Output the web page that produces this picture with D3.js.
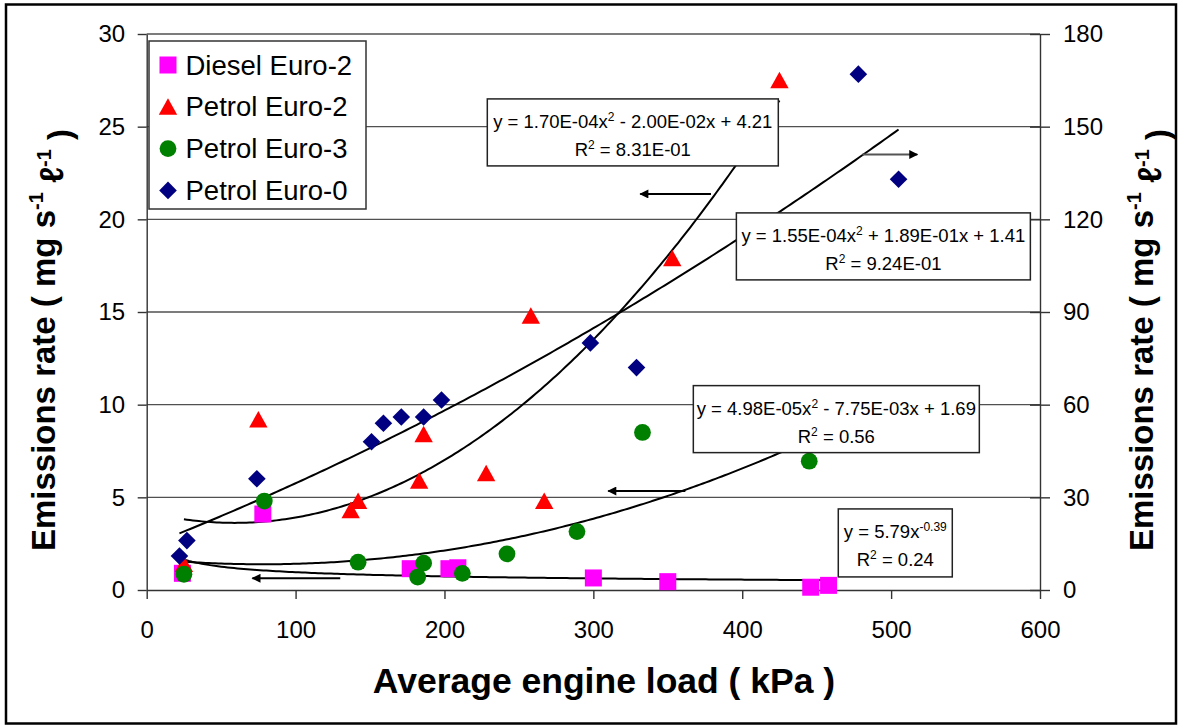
<!DOCTYPE html>
<html>
<head>
<meta charset="utf-8">
<script src="https://cdn.jsdelivr.net/npm/d3@7"></script>
<style>
  body { margin: 0; background: #fff; }
  svg { display: block; }
  text { font-family: "Liberation Sans", Arial, sans-serif; fill: #000; }
</style>
</head>
<body>
<svg id="chart" width="1178" height="725"></svg>
<script>
// ---- Measured emission rates (x: average engine load, kPa) ----
const dieselE2X = [24, 78, 177, 203, 209, 300, 350, 446, 458];
const dieselE2Y = [0.9, 4.1, 1.15, 1.15, 1.2, 0.65, 0.45, 0.15, 0.25];

const petrolE2X = [25, 75, 137, 142, 183, 186, 228, 258, 267, 353, 425];
const petrolE2Y = [1.4, 9.2, 4.3, 4.8, 5.9, 8.4, 6.3, 14.8, 4.8, 17.9, 27.5];

const petrolE3X = [25, 79, 142, 182, 186, 212, 242, 289, 333, 445];
const petrolE3Y = [0.85, 4.8, 1.5, 0.7, 1.45, 0.9, 1.95, 3.15, 8.5, 6.95];

// Petrol Euro-0 is read against the secondary (right) axis
const petrolE0X = [22, 27, 74, 151, 159, 171, 186, 198, 298, 329, 478, 505];
const petrolE0Y = [11, 16, 36, 48, 54, 56, 56, 61.5, 80, 72, 167, 133];

// ---- Trendline coefficients ----
const trendE2 = [1.70e-4, -2.00e-2, 4.21];   // quadratic, left axis
const trendE0 = [1.55e-4, 1.89e-1, 14.1];    // quadratic, right axis
const trendE3 = [4.98e-5, -7.75e-3, 1.69];   // quadratic, left axis
const trendDiesel = [5.79, -0.39];           // power, left axis

// ---- Axis ticks ----
const xTicks = [0, 100, 200, 300, 400, 500, 600];
const yLeftTicks = [0, 5, 10, 15, 20, 25, 30];
const yRightTicks = [0, 30, 60, 90, 120, 150, 180];

const seriesNames = ["Diesel Euro-2", "Petrol Euro-2", "Petrol Euro-3", "Petrol Euro-0"];
const seriesColors = ["#ff00ff", "#ff0000", "#008000", "#000080"];

const svg = d3.select("#chart");

const x = d3.scaleLinear().domain([0, 600]).range([146.7, 1040]);
const yL = d3.scaleLinear().domain([0, 30]).range([590, 34]);
const yR = d3.scaleLinear().domain([0, 180]).range([590, 34]);

// outer frame
svg.append("rect").attr("x", 6).attr("y", 4.5).attr("width", 1170).attr("height", 719)
  .attr("fill", "#fff").attr("stroke", "#000").attr("stroke-width", 2.5);

// horizontal gridlines
svg.append("g").selectAll("line").data(yLeftTicks.filter(d => d > 0)).join("line")
  .attr("x1", x(0)).attr("x2", x(600))
  .attr("y1", d => yL(d)).attr("y2", d => yL(d))
  .attr("stroke", "#505050").attr("stroke-width", 1.3);

const tickFont = "24px";

// left axis
const gL = svg.append("g").attr("transform", `translate(${x(0)},0)`)
  .call(d3.axisLeft(yL).tickValues(yLeftTicks).tickSize(9).tickSizeOuter(0).tickPadding(12.5));
// bottom axis
const gB = svg.append("g").attr("transform", `translate(0,${yL(0)})`)
  .call(d3.axisBottom(x).tickValues(xTicks).tickSize(9).tickSizeOuter(0).tickPadding(22));
// right axis (ticks cross the axis line)
const gR = svg.append("g").attr("transform", `translate(${x(600)},0)`)
  .call(d3.axisRight(yR).tickValues(yRightTicks).tickSize(10).tickSizeOuter(0).tickPadding(13));
gR.selectAll(".tick line").attr("x1", -10);

[gL, gB, gR].forEach(g => {
  g.select(".domain").attr("stroke", "#333").attr("stroke-width", 1.4);
  g.selectAll(".tick line").attr("stroke", "#333").attr("stroke-width", 1.4);
  g.selectAll(".tick text").style("font-size", tickFont)
    .style("font-family", '"Liberation Sans", Arial, sans-serif').attr("fill", "#000");
});

// axis titles
function yTitle(tx) {
  const t = svg.append("text")
    .attr("transform", `translate(${tx},340) rotate(-90)`)
    .attr("text-anchor", "middle")
    .style("font-size", "33px").style("font-weight", "bold");
  t.append("tspan").text("Emissions rate ( mg s");
  t.append("tspan").attr("dy", "-0.6em").style("font-size", "20px").text("-1");
  t.append("tspan").attr("dy", "0.6em").text(" \u2113");
  t.append("tspan").attr("dy", "-0.6em").style("font-size", "20px").text("-1");
  t.append("tspan").attr("dy", "0.6em").text(" )");
}
yTitle(55);
yTitle(1153);

svg.append("text").attr("x", 604).attr("y", 693).attr("text-anchor", "middle")
  .style("font-size", "35.5px").style("font-weight", "bold")
  .text("Average engine load ( kPa )");

// trendlines
const quad = c => v => c[0] * v * v + c[1] * v + c[2];
const power = c => v => c[0] * Math.pow(v, c[1]);
const trends = [
  { f: power(trendDiesel), y: yL, xs: dieselE2X },
  { f: quad(trendE2), y: yL, xs: petrolE2X },
  { f: quad(trendE3), y: yL, xs: petrolE3X },
  { f: quad(trendE0), y: yR, xs: petrolE0X }
];
const gT = svg.append("g");
trends.forEach(t => {
  const [x0, x1] = d3.extent(t.xs);
  const pts = d3.range(0, 201).map(i => x0 + (x1 - x0) * i / 200);
  gT.append("path")
    .attr("d", d3.line().x(v => x(v)).y(v => t.y(t.f(v)))(pts))
    .attr("fill", "none").attr("stroke", "#000").attr("stroke-width", 2);
});

// arrows pointing each trendline to its axis
svg.append("defs").append("marker")
  .attr("id", "ah").attr("viewBox", "0 0 10 10").attr("refX", 9).attr("refY", 5)
  .attr("markerWidth", 11).attr("markerHeight", 9).attr("markerUnits", "userSpaceOnUse")
  .attr("orient", "auto")
  .append("path").attr("d", "M0,0 L10,5 L0,10 Z").attr("fill", "#000");

const arrows = [
  { from: 379, to: 331.5, y: 21.37, color: "#000" },
  { from: 480.7, to: 517.6, y: 23.5, color: "#555" },
  { from: 361.8, to: 310, y: 5.34, color: "#000" },
  { from: 130, to: 71, y: 0.63, color: "#000" }
];
svg.append("g").selectAll("line").data(arrows).join("line")
  .attr("x1", d => x(d.from)).attr("x2", d => x(d.to))
  .attr("y1", d => yL(d.y)).attr("y2", d => yL(d.y))
  .attr("stroke", d => d.color).attr("stroke-width", 2)
  .attr("marker-end", "url(#ah)");

// marker shapes
const shapes = [
  g => g.append("rect").attr("x", -8.5).attr("y", -8.5).attr("width", 17).attr("height", 17),
  g => g.append("path").attr("d", "M0,-8.5 L9.2,8 L-9.2,8 Z"),
  g => g.append("circle").attr("r", 8.4),
  g => g.append("path").attr("d", "M0,-8.8 L8.8,0 L0,8.8 L-8.8,0 Z")
];

const series = [
  { xs: dieselE2X, ys: dieselE2Y, y: yL },
  { xs: petrolE2X, ys: petrolE2Y, y: yL },
  { xs: petrolE3X, ys: petrolE3Y, y: yL },
  { xs: petrolE0X, ys: petrolE0Y, y: yR }
];
series.forEach((s, si) => {
  const g = svg.append("g").attr("fill", seriesColors[si]);
  s.xs.forEach((xv, i) => {
    const m = g.append("g").attr("transform", `translate(${x(xv)},${s.y(s.ys[i])})`);
    shapes[si](m);
  });
});

// legend
const lg = svg.append("g");
lg.append("rect").attr("x", 149).attr("y", 41).attr("width", 217).attr("height", 168)
  .attr("fill", "#fff").attr("stroke", "#333").attr("stroke-width", 1.5);
seriesNames.forEach((name, i) => {
  const cy = 65 + i * 41.8;
  const m = lg.append("g").attr("transform", `translate(168,${cy})`).attr("fill", seriesColors[i]);
  shapes[i](m);
  lg.append("text").attr("x", 185.5).attr("y", cy + 9.5)
    .style("font-size", "27.5px").text(name);
});

// trendline equation boxes
const eqBoxes = [
  { cx: 326.5, cy: 24.69, w: 291, h: 67,
    l1: [["y = 1.70E-04x", 0], ["2", 1], [" - 2.00E-02x + 4.21", 0]],
    l2: [["R", 0], ["2", 1], [" = 8.31E-01", 0]] },
  { cx: 494.8, cy: 18.54, w: 294, h: 67,
    l1: [["y = 1.55E-04x", 0], ["2", 1], [" + 1.89E-01x + 1.41", 0]],
    l2: [["R", 0], ["2", 1], [" = 9.24E-01", 0]] },
  { cx: 463.2, cy: 9.22, w: 286, h: 67,
    l1: [["y = 4.98E-05x", 0], ["2", 1], [" - 7.75E-03x + 1.69", 0]],
    l2: [["R", 0], ["2", 1], [" = 0.56", 0]] },
  { cx: 502.8, cy: 2.54, w: 114, h: 68,
    l1: [["y = 5.79x", 0], ["-0.39", 1]],
    l2: [["R", 0], ["2", 1], [" = 0.24", 0]] }
];
const gE = svg.append("g");
function writeLine(t, parts) {
  let up = false;
  parts.forEach(([s, sup]) => {
    const sp = t.append("tspan").text(s);
    if (sup && !up) { sp.attr("dy", -7).style("font-size", "12px"); up = true; }
    else if (!sup && up) { sp.attr("dy", 7); up = false; }
  });
}
eqBoxes.forEach(b => {
  const px = x(b.cx), py = yL(b.cy);
  gE.append("rect").attr("x", px - b.w / 2).attr("y", py - b.h / 2)
    .attr("width", b.w).attr("height", b.h)
    .attr("fill", "#fff").attr("stroke", "#222").attr("stroke-width", 1.5);
  const t1 = gE.append("text").attr("x", px).attr("y", py - b.h / 2 + 29)
    .attr("text-anchor", "middle").style("font-size", "18.5px");
  writeLine(t1, b.l1);
  const t2 = gE.append("text").attr("x", px).attr("y", py - b.h / 2 + 57.5)
    .attr("text-anchor", "middle").style("font-size", "18.5px");
  writeLine(t2, b.l2);
});
</script>
</body>
</html>
